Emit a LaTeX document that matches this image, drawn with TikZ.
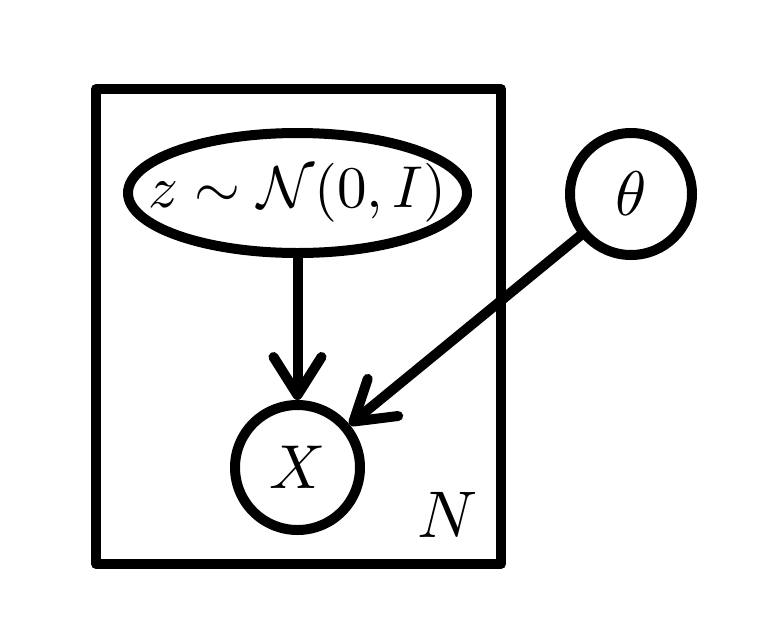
\documentclass[tikz,border=0pt]{standalone}
\usetikzlibrary{arrows.meta,shapes.geometric}
\begin{document}
\begin{tikzpicture}[x=1pt,y=-1pt,
  lw/.style={line width=10pt, line join=round, line cap=round},
  var/.style={lw, draw, circle, inner sep=0pt},
  arr/.style={lw, -{Straight Barb[length=38pt, width=48pt, line cap=round, line join=round]}}]
\useasboundingbox (0,0) rectangle (763,619);
\node[draw, lw, minimum width=405pt, minimum height=475pt, inner sep=0pt] (plate) at (298.5,326.5) {};
\node[lw, draw, ellipse, minimum width=339pt, minimum height=120pt, inner sep=0pt] (z) at (297.5,193) {};
\node[scale=5.9] at (z) {$z\sim\mathcal{N}(0,I)$};
\node[var, minimum size=122pt] (theta) at (631,194) {};
\node[scale=6.3] at (theta) {$\theta$};
\node[var, minimum size=125pt] (x) at (297.5,467.5) {};
\node[scale=6.2] at (x) {$X$};
\node[scale=6.6] (n) at (448,515) {$N$};
\draw[arr] (z) -- (x);
\draw[arr] (theta) -- (x);
\end{tikzpicture}
\end{document}
